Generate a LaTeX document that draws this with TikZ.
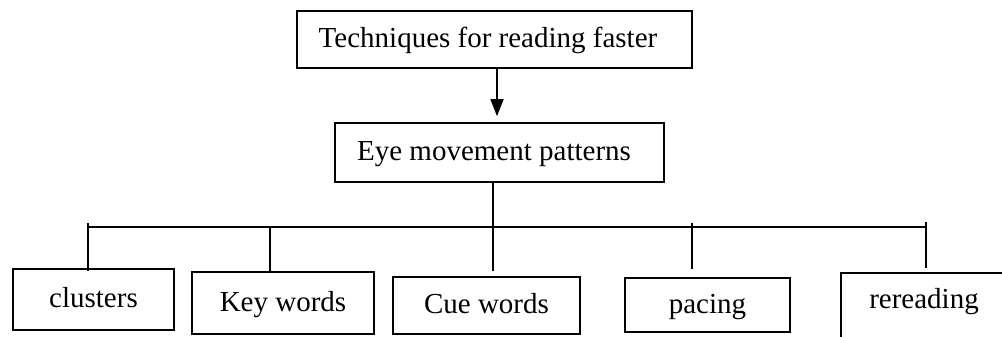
\documentclass[tikz,border=0pt]{standalone}
\usepackage{fontspec}
\setmainfont{Liberation Serif}
\usetikzlibrary{arrows.meta}
\begin{document}
\begin{tikzpicture}[x=1pt,y=-1pt,
  font=\fontsize{29}{34}\selectfont,
  box/.style={draw, line width=1.6pt, inner sep=0pt, text height=20pt, text depth=4pt},
  link/.style={draw, line width=1.6pt},
  flow/.style={link, -{Triangle[length=17pt,width=13pt]}}]
\clip (0,0) rectangle (1002,337);

% title and second level
\node[box, minimum width=395pt, minimum height=57pt] (title) at (494.5,39.5) {Techniques for reading faster\hspace*{13pt}};
\node[box, minimum width=329pt, minimum height=59pt] (eye) at (499.5,152.5) {Eye movement patterns\hspace*{11pt}};

% the five techniques
\node[box, minimum width=161pt, minimum height=61pt] (clusters) at (93.5,299.5) {clusters};
\node[box, minimum width=182pt, minimum height=62pt] (keywords) at (283,303) {Key words};
\node[box, minimum width=187pt, minimum height=57pt] (cuewords) at (486.5,305.5) {Cue words};
\node[box, minimum width=165pt, minimum height=54pt] (pacing) at (707.5,305) {pacing};
\node[draw, line width=1.6pt, inner sep=0pt, minimum width=175pt, minimum height=80pt, anchor=north west] (reread) at (840,272) {};
\node[inner sep=0pt, text height=20pt, text depth=4pt] (rereadtext) at (924,300.5) {rereading};

% arrow from title to second level
\draw[flow, shorten >=6pt] ([xshift=2.5pt]title.south) -- ([xshift=2.5pt]title.south |- eye.north);

% branching bar
\coordinate (b1) at (88,223);
\coordinate (b2) at (270,227);
\coordinate (b4) at (692,223);
\coordinate (b5) at (926,222);
\coordinate (stem) at ([xshift=-6.5pt]eye.south);
\draw[link] (88,227) -- (926,227);
\draw[link, shorten >=5pt] (stem) -- (stem |- cuewords.north);
\draw[link, shorten >=-3pt] (b1) -- (b1 |- clusters.north);
\draw[link, shorten >=-2pt] (b2) -- (b2 |- keywords.north);
\draw[link, shorten >=8pt] (b4) -- (b4 |- pacing.north);
\draw[link, shorten >=4pt] (b5) -- (b5 |- reread.north);
\end{tikzpicture}
\end{document}
